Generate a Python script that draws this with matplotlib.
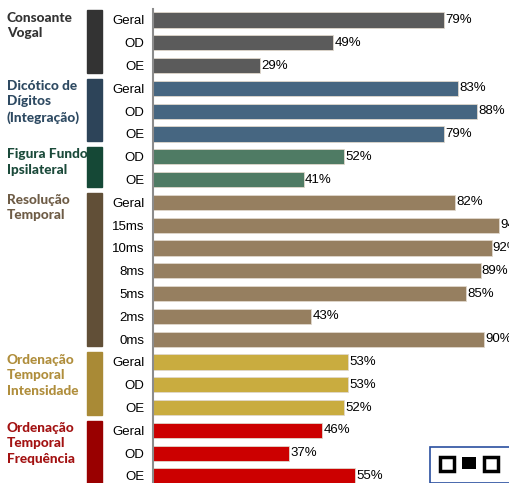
import matplotlib.pyplot as plt
import matplotlib.transforms as mtransforms
from matplotlib.patches import Rectangle

# groups of tests, one entry per group
groups = ["Consoante\nVogal", "Dicótico de\nDígitos\n(Integração)", "Figura Fundo\nIpsilateral",
          "Resolução\nTemporal", "Ordenação\nTemporal\nIntensidade", "Ordenação\nTemporal\nFrequência"]
group_rows = [
    ["Geral", "OD", "OE"],
    ["Geral", "OD", "OE"],
    ["OD", "OE"],
    ["Geral", "15ms", "10ms", "8ms", "5ms", "2ms", "0ms"],
    ["Geral", "OD", "OE"],
    ["Geral", "OD", "OE"],
]
group_values = [
    [79, 49, 29],
    [83, 88, 79],
    [52, 41],
    [82, 94, 92, 89, 85, 43, 90],
    [53, 53, 52],
    [46, 37, 55],
]
bar_colors = ["#5b5b5b", "#466681", "#4f7b64", "#967f60", "#c9ac3f", "#cc0000"]
block_colors = ["#333333", "#2d4459", "#154836", "#614f37", "#a98a36", "#990000"]
text_colors = ["#333333", "#2e4a62", "#1b4a3a", "#6e5c46", "#b08e3c", "#a31212"]

fig = plt.figure(figsize=(5.1, 4.83), dpi=100)
ax = fig.add_axes([0.3, -0.0091, 0.7, 0.9913])

labels, values, colors = [], [], []
for rows, vals, c in zip(group_rows, group_values, bar_colors):
    labels += rows
    values += vals
    colors += [c] * len(vals)
y = list(range(len(values)))

ax.barh(y, values, height=0.66, color=colors, edgecolor="#e0d8cc", linewidth=0.6)
for yi, v in zip(y, values):
    ax.text(v + 0.3, yi, f"{v}%", va="center", ha="left", fontsize=9.5,
            family="Liberation Sans", clip_on=True)

ax.set_xlim(0, 97)
ax.set_ylim(len(values) - 0.5, -0.5)
ax.set_yticks(y)
ax.set_yticklabels(labels, family="Liberation Sans", fontsize=9.5)
ax.tick_params(axis="y", length=0, pad=6)
ax.set_xticks([])
for s in ["top", "right", "bottom"]:
    ax.spines[s].set_visible(False)
ax.spines["left"].set_color("#8c8c8c")
ax.spines["left"].set_linewidth(1.5)

# coloured blocks and group names at the left
trans = mtransforms.blended_transform_factory(fig.transFigure, ax.transData)
start = 0
for name, rows, bc, tc in zip(groups, group_rows, block_colors, text_colors):
    top = start - 0.42
    bottom = start + len(rows) - 1 + 0.32
    ax.add_patch(Rectangle((87 / 510, top), 15 / 510, bottom - top, transform=trans,
                           color=bc, clip_on=False))
    ax.text(7 / 510, top + 0.05, name, transform=trans, ha="left", va="top",
            fontsize=9.8, fontweight="black", family="Lato", color=tc,
            linespacing=1.35)
    start += len(rows)

# small code box at the bottom right
fig.patches.append(Rectangle((430 / 510, 0), 80 / 510, 36 / 483, transform=fig.transFigure,
                             facecolor="white", edgecolor="#2a4fa0", linewidth=1.2))
for x0 in (440, 484):
    fig.patches.append(Rectangle((x0 / 510, 12 / 483), 14 / 510, 14 / 483,
                                 transform=fig.transFigure, facecolor="white",
                                 edgecolor="black", linewidth=2.5))
fig.patches.append(Rectangle((462 / 510, 14 / 483), 14 / 510, 12 / 483,
                             transform=fig.transFigure, facecolor="black"))

fig.savefig("out.png", dpi=100)
